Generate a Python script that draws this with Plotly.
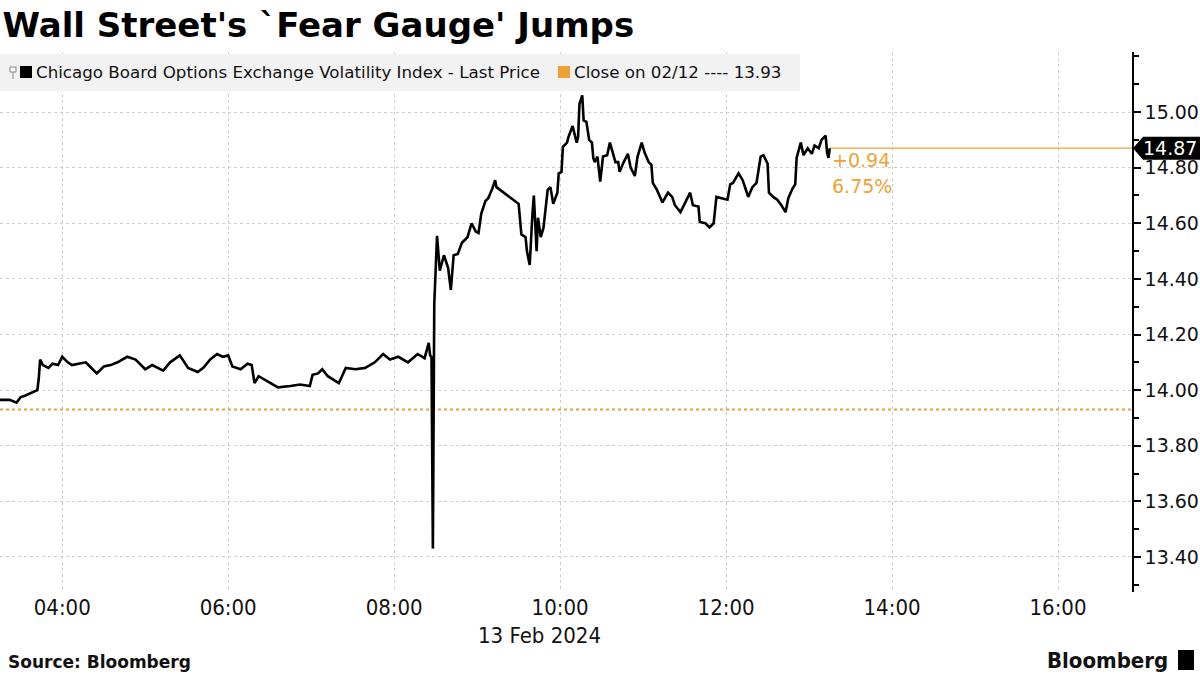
import plotly.graph_objects as go

DAY = "2024-02-13 "

times = [
    "03:15", "03:22", "03:27", "03:30", "03:33", "03:38", "03:42", "03:43", "03:44", "03:46",
    "03:50", "03:53", "03:57", "04:00", "04:04", "04:07", "04:13", "04:17", "04:20", "04:25",
    "04:30", "04:35", "04:40", "04:47", "04:53", "05:00", "05:05", "05:09", "05:13", "05:18",
    "05:25", "05:31", "05:38", "05:42", "05:47", "05:52", "05:56", "06:00", "06:03", "06:09",
    "06:14", "06:17", "06:19", "06:22", "06:27", "06:32", "06:36", "06:45", "06:52", "06:59",
    "07:01", "07:05", "07:08", "07:12", "07:20", "07:25", "07:32", "07:39", "07:46", "07:52",
    "07:57", "08:03", "08:10", "08:17", "08:22", "08:25", "08:26", "08:27", "08:28", "08:29",
    "08:30", "08:31", "08:33", "08:36", "08:39", "08:41", "08:43", "08:46", "08:49", "08:53",
    "08:56", "08:59", "09:01", "09:03", "09:06", "09:08", "09:11", "09:13", "09:14", "09:30",
    "09:32", "09:35", "09:36", "09:38", "09:40", "09:41", "09:43", "09:44", "09:46", "09:48",
    "09:51", "09:53", "09:55", "09:58", "09:59", "10:01", "10:02", "10:05", "10:06", "10:09",
    "10:10", "10:12", "10:13", "10:14", "10:16", "10:17", "10:19", "10:20", "10:21", "10:23",
    "10:24", "10:25", "10:27", "10:29", "10:31", "10:34", "10:36", "10:38", "10:40", "10:42",
    "10:43", "10:46", "10:49", "10:51", "10:54", "10:56", "10:59", "11:01", "11:04", "11:06",
    "11:07", "11:10", "11:12", "11:14", "11:18", "11:21", "11:23", "11:27", "11:30", "11:34",
    "11:36", "11:40", "11:41", "11:45", "11:48", "11:51", "11:53", "11:57", "12:01", "12:03",
    "12:05", "12:09", "12:12", "12:14", "12:16", "12:19", "12:22", "12:25", "12:27", "12:30",
    "12:31", "12:34", "12:37", "12:40", "12:43", "12:45", "12:48", "12:50", "12:51", "12:54",
    "12:56", "12:59", "13:02", "13:04", "13:07", "13:09", "13:12", "13:13", "13:14", "13:15",
]

vix = [
    13.965, 13.965, 13.955, 13.975, 13.98, 13.99, 14.00, 14.04, 14.11, 14.09,
    14.08, 14.095, 14.09, 14.12, 14.10, 14.09, 14.095, 14.10, 14.085, 14.06,
    14.085, 14.09, 14.10, 14.12, 14.11, 14.075, 14.09, 14.08, 14.07, 14.10,
    14.125, 14.08, 14.065, 14.08, 14.11, 14.13, 14.12, 14.125, 14.085, 14.075,
    14.095, 14.09, 14.025, 14.05, 14.035, 14.02, 14.01, 14.015, 14.02, 14.015,
    14.055, 14.06, 14.075, 14.05, 14.025, 14.08, 14.075, 14.08, 14.10, 14.13,
    14.11, 14.12, 14.10, 14.13, 14.115, 14.17, 14.125, 14.12, 13.43, 14.31,
    14.46, 14.555, 14.43, 14.485, 14.44, 14.36, 14.485, 14.49, 14.53, 14.55,
    14.60, 14.57, 14.565, 14.635, 14.68, 14.69, 14.725, 14.755, 14.73, 14.67,
    14.56, 14.55, 14.50, 14.45, 14.635, 14.70, 14.50, 14.62, 14.55, 14.585,
    14.72, 14.73, 14.67, 14.71, 14.78, 14.785, 14.875, 14.89, 14.91, 14.95,
    14.93, 14.89, 14.91, 15.03, 15.06, 14.97, 14.965, 14.925, 14.90, 14.89,
    14.835, 14.82, 14.84, 14.75, 14.84, 14.845, 14.89, 14.855, 14.82, 14.82,
    14.785, 14.82, 14.85, 14.80, 14.77, 14.84, 14.89, 14.855, 14.82, 14.81,
    14.745, 14.72, 14.70, 14.675, 14.71, 14.695, 14.665, 14.64, 14.67, 14.71,
    14.665, 14.66, 14.605, 14.60, 14.585, 14.60, 14.695, 14.69, 14.685, 14.74,
    14.745, 14.78, 14.755, 14.725, 14.695, 14.73, 14.745, 14.84, 14.845, 14.815,
    14.71, 14.695, 14.685, 14.665, 14.64, 14.69, 14.725, 14.74, 14.835, 14.89,
    14.845, 14.87, 14.85, 14.88, 14.87, 14.90, 14.915, 14.855, 14.835, 14.87,
]

prev_close = 13.93
last_price = 14.87
change = "+0.94"
change_pct = "6.75%"
y_ticks = [13.40, 13.60, 13.80, 14.00, 14.20, 14.40, 14.60, 14.80, 15.00]
x_range = ["03:15", "16:53:30"]

ORANGE = "#eea236"
GRID = "#cfcfcf"
TXT = "DejaVu Sans, sans-serif"
NARROW = "Liberation Sans Narrow, DejaVu Sans Condensed, Liberation Sans, sans-serif"

xs = [DAY + t for t in times]
x0 = DAY + x_range[0]
x1 = DAY + x_range[1]

fig = go.Figure()

fig.add_trace(go.Scatter(
    x=[x0, x1], y=[prev_close, prev_close], mode="lines",
    line=dict(color=ORANGE, width=2, dash="dot"), hoverinfo="skip", showlegend=False))

fig.add_trace(go.Scatter(
    x=[xs[-1], x1], y=[last_price, last_price], mode="lines",
    line=dict(color=ORANGE, width=1.2), hoverinfo="skip", showlegend=False))

fig.add_trace(go.Scatter(
    x=xs, y=vix, mode="lines", line=dict(color="black", width=2.6),
    showlegend=False))

PLOT_W = 1132.0
PLOT_H = 540.0

def px_x(p):
    return p / PLOT_W

def px_y(p):
    return (592.0 - p) / PLOT_H

shapes = []
shapes.append(dict(type="rect", xref="paper", yref="paper",
                   x0=0, x1=px_x(800), y0=px_y(91), y1=px_y(54),
                   fillcolor="#f2f2f2", line=dict(width=0), layer="above"))
shapes.append(dict(type="rect", xref="paper", yref="paper",
                   x0=px_x(20), x1=px_x(32), y0=px_y(78), y1=px_y(66),
                   fillcolor="black", line=dict(width=0), layer="above"))
shapes.append(dict(type="rect", xref="paper", yref="paper",
                   x0=px_x(10), x1=px_x(16), y0=px_y(72), y1=px_y(67),
                   fillcolor="white", line=dict(width=1, color="#888"), layer="above"))
shapes.append(dict(type="line", xref="paper", yref="paper",
                   x0=px_x(13), x1=px_x(13), y0=px_y(79), y1=px_y(72),
                   line=dict(width=1, color="#888"), layer="above"))
shapes.append(dict(type="rect", xref="paper", yref="paper",
                   x0=px_x(558), x1=px_x(570), y0=px_y(78), y1=px_y(66),
                   fillcolor=ORANGE, line=dict(width=0), layer="above"))
tip = px_x(1133)
body = px_x(1143)
right = px_x(1200)
h = 11.5 / 278.0
shapes.append(dict(type="path", xref="paper", yref="y",
                   path=f"M {tip} {last_price} L {body} {last_price + h} L {right} {last_price + h} "
                        f"L {right} {last_price - h} L {body} {last_price - h} Z",
                   fillcolor="black", line=dict(width=0), layer="above"))
shapes.append(dict(type="rect", xref="paper", yref="paper",
                   x0=px_x(1178), x1=px_x(1194), y0=px_y(670), y1=px_y(650),
                   fillcolor="black", line=dict(width=0), layer="above"))

annotations = [
    dict(text="Chicago Board Options Exchange Volatility Index - Last Price",
         xref="paper", yref="paper", x=px_x(34), y=px_y(72), xanchor="left", yanchor="middle",
         showarrow=False, font=dict(family=TXT, size=16.7, color="#111")),
    dict(text=f"Close on 02/12 ---- {prev_close:.2f}",
         xref="paper", yref="paper", x=px_x(572), y=px_y(72), xanchor="left", yanchor="middle",
         showarrow=False, font=dict(family=TXT, size=16.7, color="#111")),
    dict(text=f"{last_price:.2f}", xref="paper", yref="y", x=px_x(1170), y=last_price,
         xanchor="center", yanchor="middle", showarrow=False,
         font=dict(family=TXT, size=19, color="white")),
    dict(text=change, xref="x", yref="paper", x=xs[-1], y=px_y(160), xanchor="left",
         yanchor="middle", showarrow=False, font=dict(family=TXT, size=19, color=ORANGE)),
    dict(text=change_pct, xref="x", yref="paper", x=xs[-1], y=px_y(186), xanchor="left",
         yanchor="middle", showarrow=False, font=dict(family=TXT, size=19, color=ORANGE)),
    dict(text="13 Feb 2024", xref="paper", yref="paper", x=px_x(539), y=px_y(635),
         xanchor="center", yanchor="middle", showarrow=False,
         font=dict(family=NARROW, size=22, color="#111")),
    dict(text="<b>Source: Bloomberg</b>", xref="paper", yref="paper", x=px_x(6), y=px_y(662),
         xanchor="left", yanchor="middle", showarrow=False,
         font=dict(family=TXT, size=17, color="#111")),
    dict(text="<b>Bloomberg</b>", xref="paper", yref="paper", x=px_x(1170), y=px_y(660),
         xanchor="right", yanchor="middle", showarrow=False,
         font=dict(family=NARROW, size=22, color="#111")),
]

fig.update_layout(
    width=1200, height=675,
    margin=dict(l=0, r=68, t=52, b=83),
    paper_bgcolor="white", plot_bgcolor="white",
    title=dict(text="<b>Wall Street's `Fear Gauge' Jumps</b>", x=0.002, xanchor="left",
               xref="container", y=1 - 25 / 675, yanchor="middle", yref="container",
               font=dict(family="DejaVu Sans, sans-serif", size=34, color="black")),
    shapes=shapes, annotations=annotations, showlegend=False,
    xaxis=dict(type="date", range=[x0, x1], tick0=DAY + "04:00", dtick=7200000,
               tickformat="%H:%M", showgrid=True, gridcolor=GRID, griddash="dot",
               gridwidth=1, showline=False, zeroline=False, ticks="",
               tickfont=dict(family=NARROW, size=22, color="#111")),
    yaxis=dict(side="right", range=[13.274, 15.216], tickvals=y_ticks, tickformat=".2f",
               showgrid=True, gridcolor=GRID, griddash="dot", gridwidth=1,
               showline=True, linecolor="black", linewidth=1.5, zeroline=False,
               ticks="outside", ticklen=7, tickcolor="black", tickwidth=1.5,
               minor=dict(dtick=0.1, tick0=13.3, ticks="outside", ticklen=5,
                          tickcolor="black", showgrid=False),
               tickfont=dict(family=TXT, size=19, color="#111")),
)

fig.write_html("out.html", config={"displayModeBar": False},
               post_script="document.body.style.margin='0px';")
